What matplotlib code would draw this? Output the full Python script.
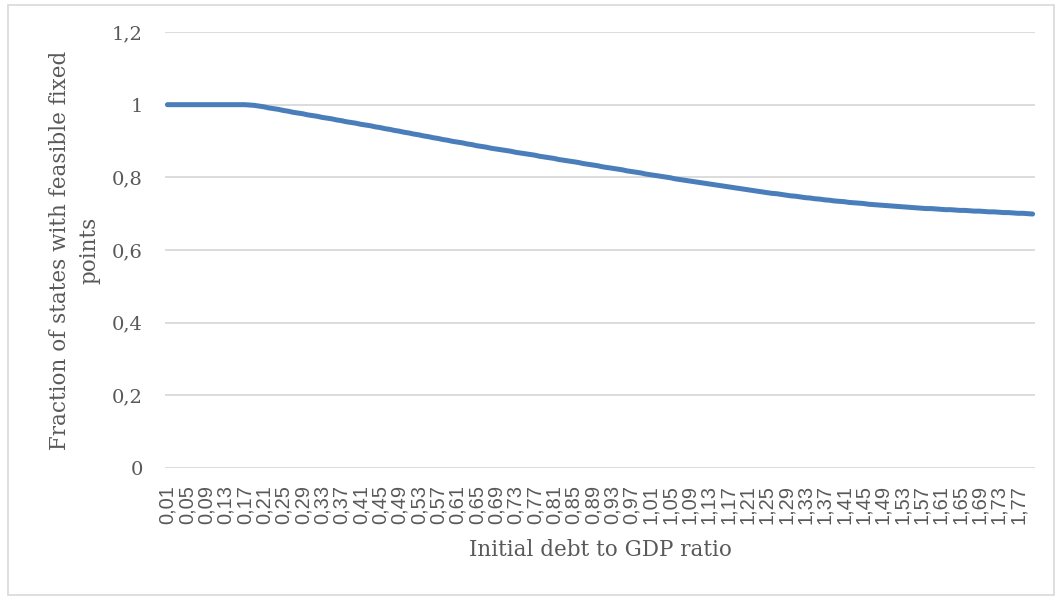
import numpy as np
import matplotlib
matplotlib.use("Agg")
import matplotlib.pyplot as plt
from matplotlib.patches import Rectangle

# --- Daten ---
debt_ratio = np.round(np.arange(1, 181) * 0.01, 2)   # 0,01 ... 1,80

fraction_feasible = [
    1.000, 1.000, 1.000, 1.000, 1.000, 1.000, 1.000, 1.000, 1.000, 1.000,
    1.000, 1.000, 1.000, 1.000, 1.000, 1.000, 1.000, 0.999, 0.998, 0.996,
    0.994, 0.991, 0.989, 0.987, 0.984, 0.982, 0.979, 0.977, 0.975, 0.972,
    0.970, 0.968, 0.965, 0.963, 0.961, 0.958, 0.956, 0.953, 0.951, 0.949,
    0.946, 0.944, 0.942, 0.939, 0.937, 0.934, 0.932, 0.929, 0.927, 0.924,
    0.922, 0.919, 0.917, 0.914, 0.912, 0.909, 0.907, 0.904, 0.902, 0.899,
    0.897, 0.895, 0.892, 0.890, 0.887, 0.885, 0.883, 0.880, 0.878, 0.876,
    0.874, 0.872, 0.869, 0.867, 0.865, 0.863, 0.861, 0.858, 0.856, 0.854,
    0.852, 0.849, 0.847, 0.845, 0.843, 0.841, 0.838, 0.836, 0.834, 0.832,
    0.829, 0.827, 0.825, 0.823, 0.821, 0.818, 0.816, 0.814, 0.812, 0.809,
    0.807, 0.805, 0.803, 0.801, 0.799, 0.796, 0.794, 0.792, 0.790, 0.788,
    0.786, 0.784, 0.782, 0.780, 0.778, 0.776, 0.774, 0.772, 0.770, 0.768,
    0.766, 0.764, 0.762, 0.760, 0.758, 0.756, 0.755, 0.753, 0.751, 0.749,
    0.748, 0.746, 0.744, 0.743, 0.741, 0.740, 0.738, 0.737, 0.735, 0.734,
    0.733, 0.731, 0.730, 0.729, 0.728, 0.726, 0.725, 0.724, 0.723, 0.722,
    0.721, 0.720, 0.719, 0.718, 0.717, 0.716, 0.715, 0.714, 0.714, 0.713,
    0.712, 0.711, 0.711, 0.710, 0.709, 0.709, 0.708, 0.707, 0.707, 0.706,
    0.705, 0.705, 0.704, 0.703, 0.703, 0.702, 0.701, 0.701, 0.700, 0.699,
]

y_ticks = [0, 0.2, 0.4, 0.6, 0.8, 1.0, 1.2]
y_tick_labels = ["0", "0,2", "0,4", "0,6", "0,8", "1", "1,2"]
x_title = "Initial debt to GDP ratio"
y_title = "Fraction of states with feasible fixed\npoints"

LINE_COLOR = "#4a7ebb"
GRID_COLOR = "#d9d9d9"
TEXT_COLOR = "#595959"
SERIF = ["DejaVu Serif"]
SANS = ["Liberation Sans", "DejaVu Sans"]

# --- Abbildung ---
W, H = 1060, 599
fig = plt.figure(figsize=(W / 100, H / 100), dpi=100)
fig.patches.append(Rectangle((8 / W, 4 / H), 1046 / W, 590 / H, transform=fig.transFigure,
                             facecolor="none", edgecolor="#d9d9d9", linewidth=1.2))

ax = fig.add_axes([165 / W, 1 - 468 / H, 870 / W, (468 - 32) / H])

n = len(fraction_feasible)
pos = np.arange(n)
ax.plot(pos, fraction_feasible, color=LINE_COLOR, linewidth=3.6,
        solid_capstyle="round", zorder=3)

ax.set_xlim(-0.5, n - 0.5)
ax.set_ylim(0, 1.2)

ax.set_yticks(y_ticks)
ax.set_yticklabels(y_tick_labels, fontsize=14, color=TEXT_COLOR, family=SERIF)
ax.grid(axis="y", color=GRID_COLOR, linewidth=1.3)
ax.set_axisbelow(True)

# jede vierte Kategorie beschriften (wie Excel)
label_idx = pos[::4]
ax.set_xticks(label_idx)
ax.set_xticklabels([f"{debt_ratio[i]:.2f}".replace(".", ",") for i in label_idx],
                   rotation=90, fontsize=14.5, color=TEXT_COLOR, family=SANS)

ax.tick_params(axis="both", length=0)
ax.tick_params(axis="y", pad=16)
ax.tick_params(axis="x", pad=12)
for s in ax.spines.values():
    s.set_visible(False)

ax.set_xlabel(x_title, fontsize=15.5, color=TEXT_COLOR, family=SERIF, labelpad=11)
ax.set_ylabel(y_title, fontsize=15.5, color=TEXT_COLOR, family=SERIF, labelpad=8,
              linespacing=1.45)

fig.savefig("out.png", dpi=100)
